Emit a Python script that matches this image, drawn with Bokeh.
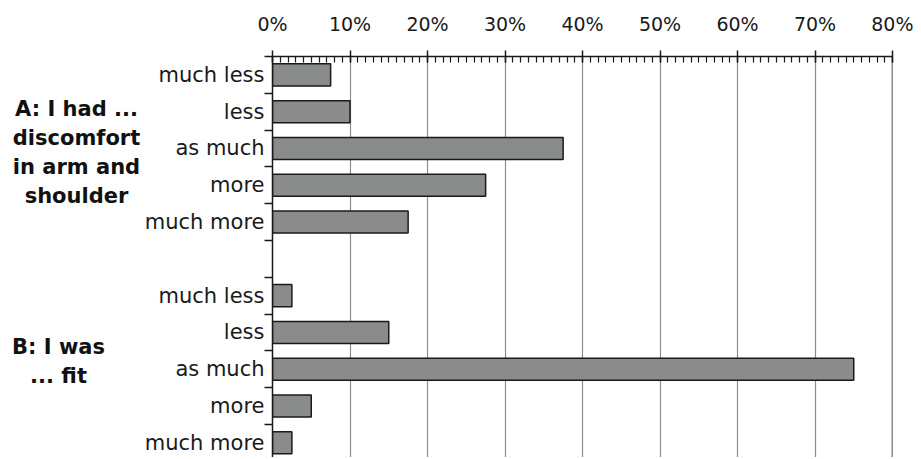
from bokeh.plotting import figure
from bokeh.layouts import row
from bokeh.models import (ColumnDataSource, Range1d, FixedTicker, SingleIntervalTicker, Span)
from bokeh.core.properties import value
from bokeh.embed import file_html
from bokeh.resources import INLINE

# ---- data ----
responses = ["much less", "less", "as much", "more", "much more"]
group_labels = ["A: I had ...\ndiscomfort\nin arm and\nshoulder", "B: I was\n... fit"]
values_a = [7.5, 10.0, 37.5, 27.5, 17.5]
values_b = [2.5, 15.0, 75.0, 5.0, 2.5]
x_ticks = [0, 10, 20, 30, 40, 50, 60, 70, 80]

# slot positions: group A in slots 0-4, gap slot 5, group B in slots 6-10
n = len(responses)
slots_a = list(range(n))
slots_b = [n + 1 + i for i in range(n)]
slots = slots_a + slots_b
vals = values_a + values_b
labels = responses + responses

src = ColumnDataSource(dict(y=slots, v=vals))

H = 457
LW = 141          # width of the left panel holding the group labels
TOP = 56
yr = Range1d(10.4, -0.5)

# ---------- main chart ----------
p = figure(width=913 - LW, height=H, output_backend="svg", toolbar_location=None,
           x_range=Range1d(x_ticks[0], x_ticks[-1]), y_range=yr,
           x_axis_location="above",
           min_border_left=272 - LW, min_border_right=21, min_border_top=TOP,
           min_border_bottom=0)
p.outline_line_color = None
p.background_fill_color = "white"

p.hbar(y="y", right="v", left=0, height=0.6, source=src,
       fill_color="#8a8c8c", line_color="#1a1a1a", line_width=1.5)

# x axis (top)
xa = p.xaxis[0]
xa.ticker = SingleIntervalTicker(interval=10, num_minor_ticks=10)
xa.major_label_overrides = {t: f"{t}%" for t in x_ticks}
xa.axis_line_color = "#1a1a1a"
xa.axis_line_width = 1.5
xa.major_tick_in = 6
xa.major_tick_out = 6
xa.major_tick_line_color = "#1a1a1a"
xa.major_tick_line_width = 1.5
xa.minor_tick_in = 6
xa.minor_tick_out = 0
xa.minor_tick_line_color = "#1a1a1a"
xa.minor_tick_line_width = 1.2
xa.major_label_text_font = "DejaVu Sans"
xa.major_label_text_font_size = "19px"
xa.major_label_text_color = "#1a1a1a"
xa.major_label_standoff = 16

# y axis (left)
ya = p.yaxis[0]
boundaries = [s - 0.5 for s in range(len(slots) + 2)]
ya.ticker = FixedTicker(ticks=slots, minor_ticks=boundaries)
ya.major_label_overrides = {s: lab for s, lab in zip(slots, labels)}
ya.axis_line_color = "#1a1a1a"
ya.axis_line_width = 1.5
ya.major_tick_in = 0
ya.major_tick_out = 0
ya.minor_tick_in = 0
ya.minor_tick_out = 8
ya.minor_tick_line_color = "#1a1a1a"
ya.minor_tick_line_width = 1.5
ya.major_label_text_font = "DejaVu Sans"
ya.major_label_text_font_size = "21px"
ya.major_label_text_color = "#1a1a1a"
ya.major_label_standoff = 0

# grid
p.ygrid.grid_line_color = None
p.xgrid.ticker = SingleIntervalTicker(interval=10)
p.xgrid.grid_line_color = "#8c8c8c"
p.xgrid.grid_line_width = 1.2

# right border line at the axis end
p.add_layout(Span(location=x_ticks[-1], dimension="height",
                  line_color="#1a1a1a", line_width=1.5))

# ---------- left panel with group labels ----------
g = figure(width=LW, height=H, output_backend="svg", toolbar_location=None,
           x_range=Range1d(0, LW), y_range=yr,
           min_border_left=0, min_border_right=0, min_border_top=TOP,
           min_border_bottom=0)
g.axis.visible = False
g.grid.grid_line_color = None
g.outline_line_color = None
g.text(x=[76, 58], y=[2.11, 7.78], text=group_labels,
       text_align="center", text_baseline="middle",
       text_font=value("DejaVu Sans"), text_font_style="bold",
       text_font_size="21px", text_line_height=1.21, text_color="#111111")

layout = row(g, p)
open("out.html", "w").write(file_html(layout, INLINE))
